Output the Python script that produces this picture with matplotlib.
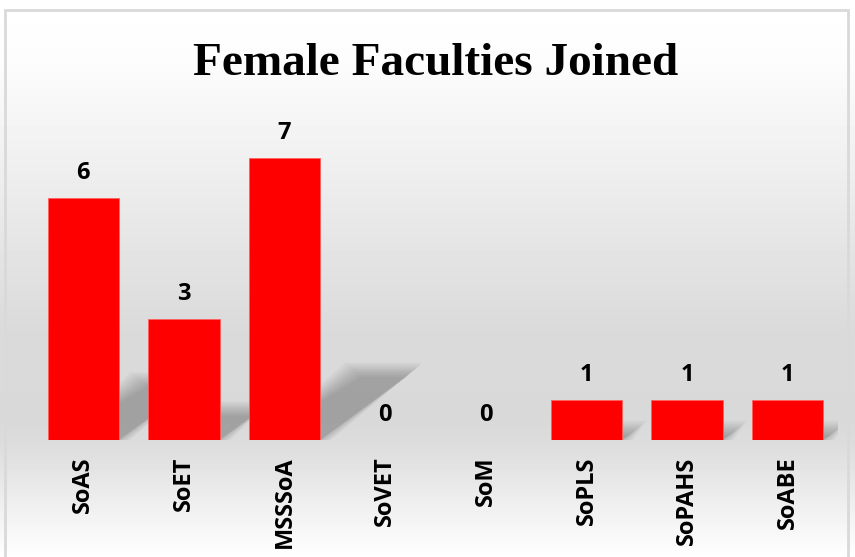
import numpy as np
import matplotlib.pyplot as plt
from matplotlib.patches import Polygon, Rectangle

schools = ["SoAS", "SoET", "MSSSoA", "SoVET", "SoM", "SoPLS", "SoPAHS", "SoABE"]
joined = [6, 3, 7, 0, 0, 1, 1, 1]

W, H = 855, 557
fig = plt.figure(figsize=(W / 100, H / 100), dpi=100)

# background: soft grey band behind the bar baseline
bg = fig.add_axes([0, 0, 1, 1], zorder=-10)
ys = np.arange(H)
prof = np.interp(ys, [0, 60, 200, 330, 420, 445, 557], [1.0, 0.99, 0.92, 0.855, 0.85, 0.865, 1.0])
img = np.repeat(prof[:, None], 4, axis=1)
bg.imshow(img, cmap="gray", vmin=0, vmax=1, aspect="auto", extent=[0, 1, 0, 1], origin="upper")
bg.add_patch(Rectangle((5 / W, -0.01), (848 - 5) / W, 1 - 10 / H + 0.01, fill=False,
                       edgecolor="#d9d9d9", linewidth=2, transform=bg.transAxes))
bg.axis("off")

ax = fig.add_axes([33 / W, (H - 440) / H, (838 - 33) / W, 0.579])
ax.patch.set_alpha(0)
x = np.arange(len(schools))

# perspective shadows, blurred by stacking
for xi, h in zip(x, joined):
    if h == 0:
        continue
    x0, x1 = xi - 0.355, xi + 0.355
    top = 0.24 * h
    dx = 0.13 * h
    for k in range(10):
        e = 0.018 * (k - 3)
        ey = 0.04 * (k - 3)
        ax.add_patch(Polygon([(x0 + 0.1, 0), (x1 + max(e, 0), 0), (x1 + dx + e, top + ey),
                              (x0 + dx + 0.15 - e, top + ey)],
                             closed=True, facecolor="black", alpha=0.028, edgecolor="none", zorder=1))

ax.bar(x, joined, width=0.71, color="#ff0000", edgecolor="#ff6060", linewidth=0.6, zorder=3)
for xi, h in zip(x, joined):
    ax.annotate(str(h), (xi, h), xytext=(0, 13.5), textcoords="offset points", ha="center", va="baseline",
                fontsize=17, fontweight="bold", family="Open Sans", color="black", zorder=4)

ax.set_xlim(-0.5, len(schools) - 0.5)
ax.set_ylim(0, 8)
ax.set_xticks(x)
ax.set_xticklabels(schools, rotation=90, fontsize=17, fontweight="bold", family="Open Sans")
ax.tick_params(axis="x", length=0, pad=12)
ax.set_yticks([])
for s in ax.spines.values():
    s.set_visible(False)

fig.text(436 / W, 1 - 64 / H, "Female Faculties Joined", ha="center", va="center",
         fontsize=34, fontweight="bold", family="Liberation Serif")

fig.savefig("out.png", dpi=100)
